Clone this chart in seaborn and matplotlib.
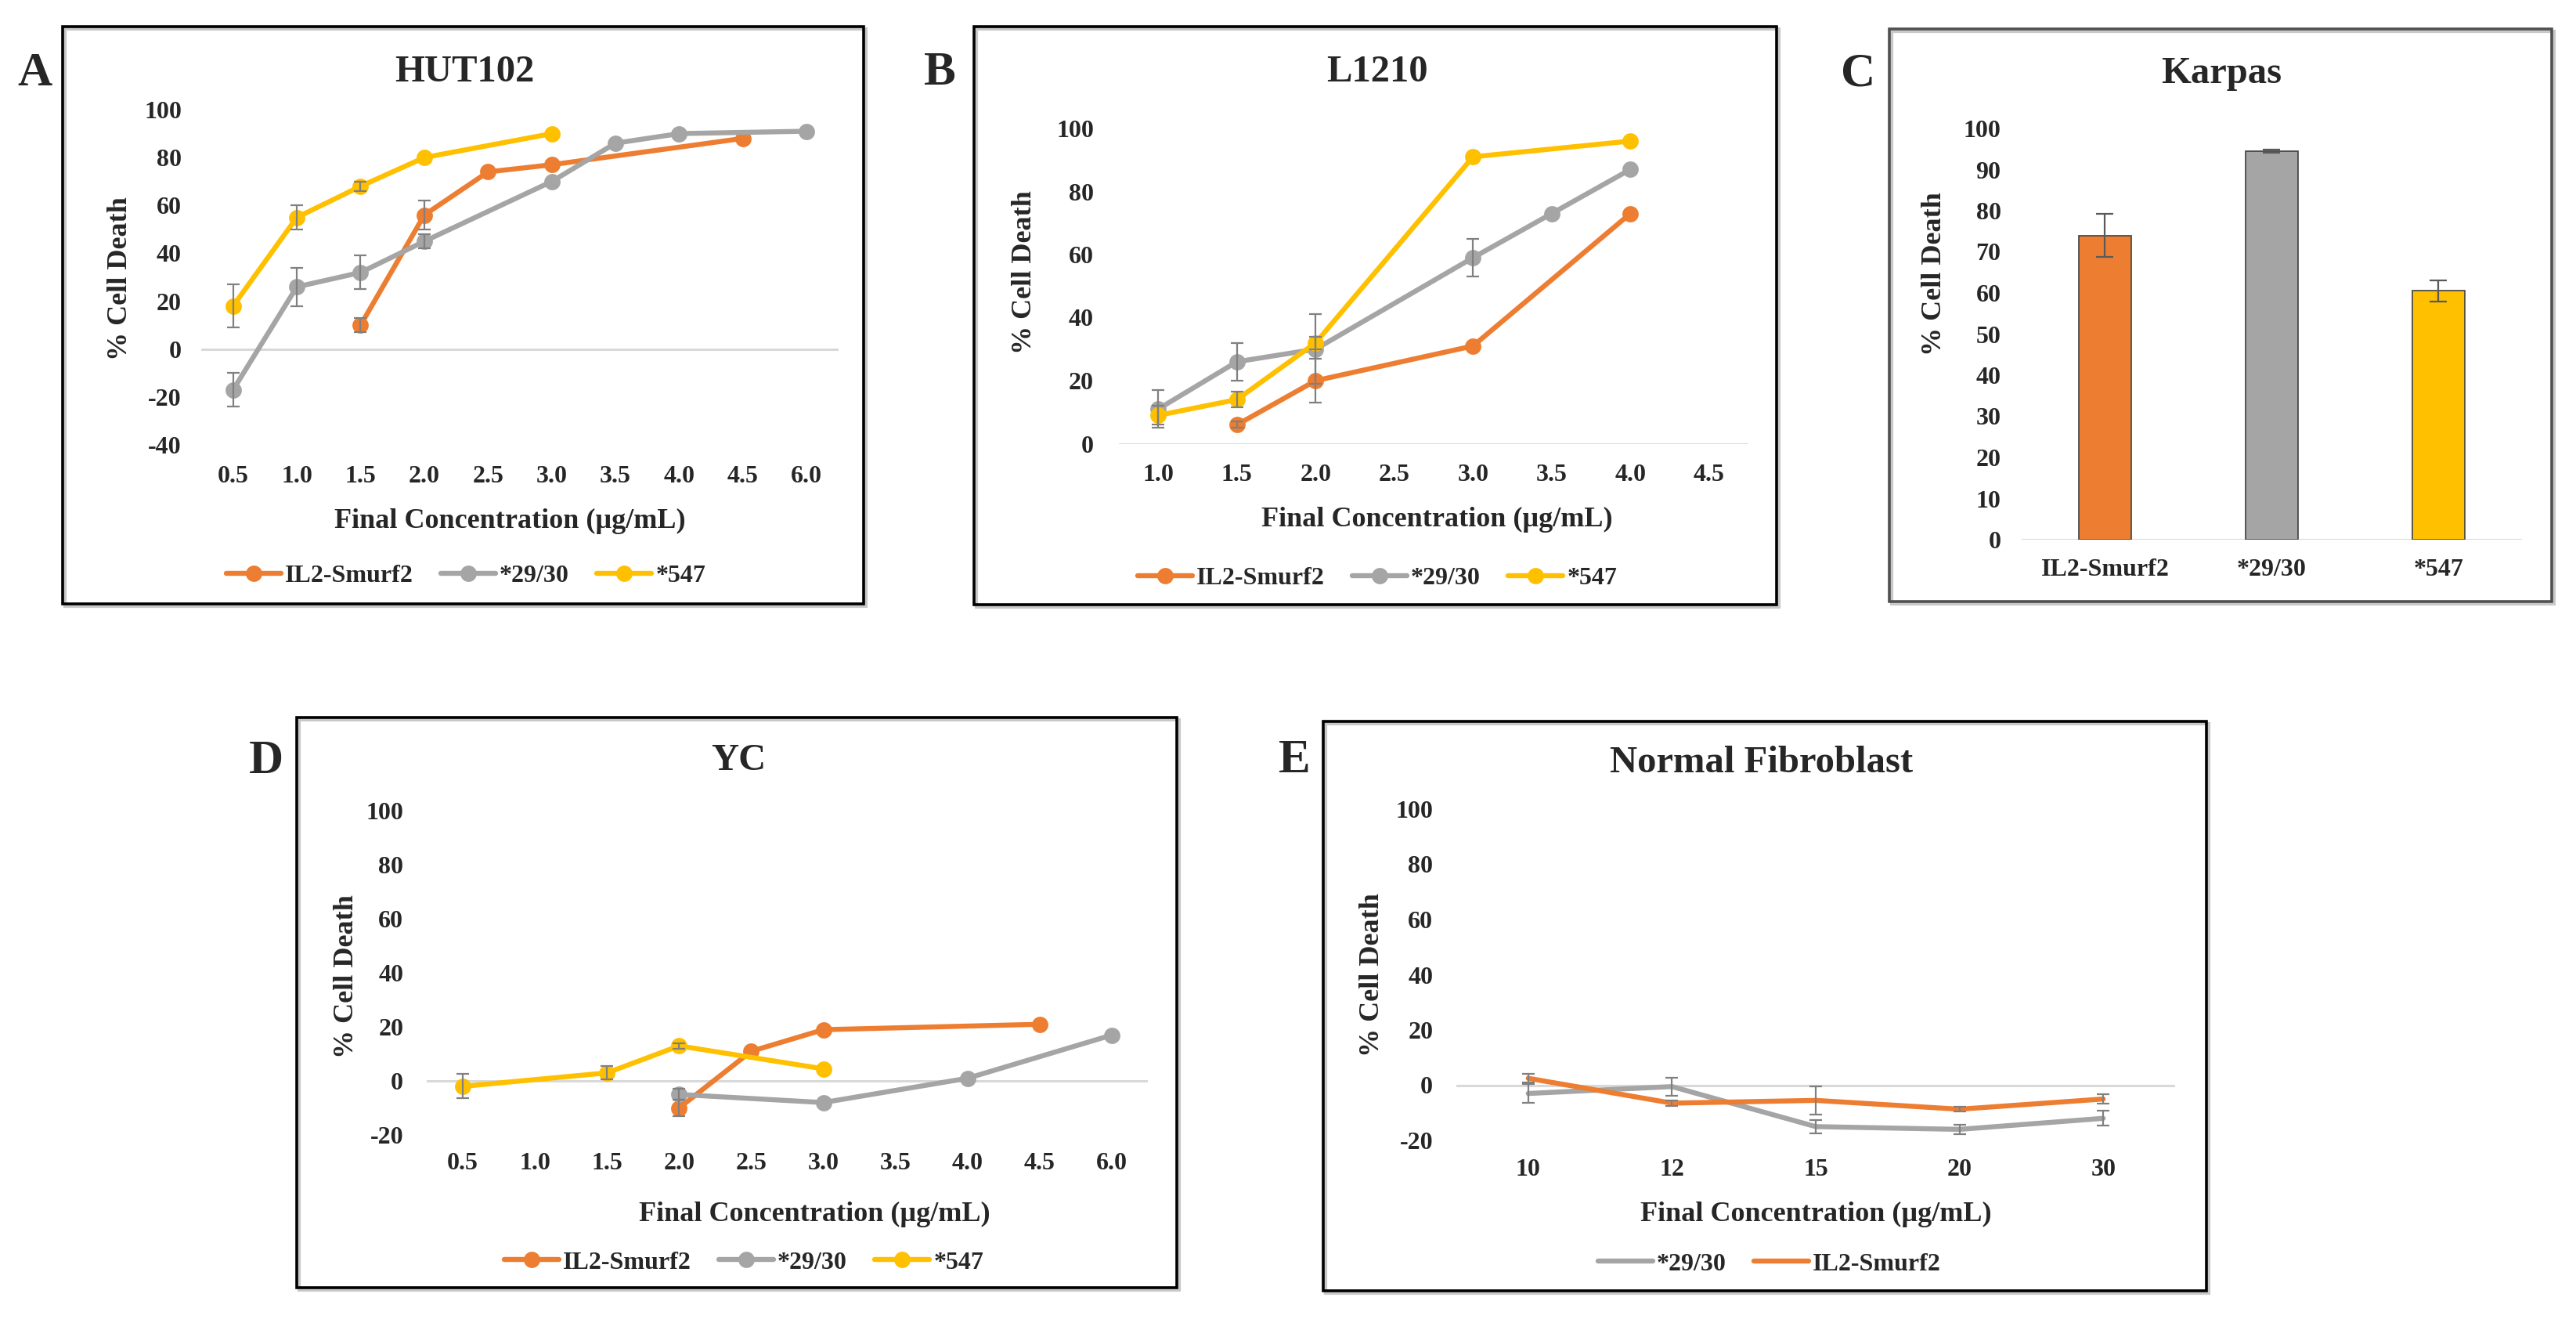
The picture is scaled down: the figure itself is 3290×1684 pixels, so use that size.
import numpy as np
import pandas as pd
import matplotlib
matplotlib.use("Agg")
import matplotlib.pyplot as plt
import seaborn as sns
from matplotlib.patches import Rectangle
from matplotlib.lines import Line2D

nan = np.nan

# ---------------- data ----------------
SERIES = ["IL2-Smurf2", "*29/30", "*547"]
COLORS = {"IL2-Smurf2": "#ED7D31", "*29/30": "#A5A5A5", "*547": "#FFC000"}

# A: HUT102
hut_conc = ["0.5", "1.0", "1.5", "2.0", "2.5", "3.0", "3.5", "4.0", "4.5", "6.0"]
hut_il2 = [nan, nan, 10, 56, 74, 77, nan, nan, 88, nan]
hut_il2_err = [nan, nan, 3, 6, nan, nan, nan, nan, nan, nan]
hut_2930 = [-17, 26, 32, 45, nan, 70, 86, 90, nan, 91]
hut_2930_err = [7, 8, 7, 3, nan, nan, nan, nan, nan, nan]
hut_547 = [18, 55, 68, 80, nan, 90, nan, nan, nan, nan]
hut_547_err = [9, 5, 2, nan, nan, nan, nan, nan, nan, nan]

# B: L1210
l1210_conc = ["1.0", "1.5", "2.0", "2.5", "3.0", "3.5", "4.0", "4.5"]
l1210_il2 = [nan, 6, 20, nan, 31, nan, 73, nan]
l1210_il2_err = [nan, 1, 7, nan, nan, nan, nan, nan]
l1210_2930 = [11, 26, 30, nan, 59, 73, 87, nan]
l1210_2930_err = [6, 6, 11, nan, 6, nan, nan, nan]
l1210_547 = [9, 14, 32, nan, 91, nan, 96, nan]
l1210_547_err = [3, 2.5, 2, nan, nan, nan, nan, nan]

# C: Karpas
karpas_cats = ["IL2-Smurf2", "*29/30", "*547"]
karpas_vals = [74, 94.5, 60.5]
karpas_err = [5.3, 0.4, 2.5]

# D: YC
yc_conc = ["0.5", "1.0", "1.5", "2.0", "2.5", "3.0", "3.5", "4.0", "4.5", "6.0"]
yc_il2 = [nan, nan, nan, -10, 11, 19, nan, nan, 21, nan]
yc_il2_err = [nan, nan, nan, 3, nan, nan, nan, nan, nan, nan]
yc_2930 = [nan, nan, nan, -5, nan, -8, nan, 1, nan, 17]
yc_2930_err = [nan, nan, nan, 2, nan, nan, nan, nan, nan, nan]
yc_547 = [-2, nan, 3, 13, nan, 4.5, nan, nan, nan, nan]
yc_547_err = [4.5, nan, 2.5, 1, nan, nan, nan, nan, nan, nan]

# E: Normal Fibroblast
fib_conc = ["10", "12", "15", "20", "30"]
fib_2930 = [-3, -0.5, -15, -16, -12]
fib_2930_err = [3.5, 3.3, 2.5, 1.8, 2.7]
fib_il2 = [2.5, -6.5, -5.5, -8.7, -5]
fib_il2_err = [1.5, 1, 5, 0.8, 1.7]

# ---------------- style ----------------
sns.set_theme(style="white")
plt.rcParams["font.family"] = ["Liberation Serif", "DejaVu Serif"]
plt.rcParams["font.weight"] = "bold"

W, H = 3291, 1684
fig = plt.figure(figsize=(W / 100, H / 100), dpi=100)
fig.patch.set_facecolor("white")

TICK_FS = 23
LAB_FS = 26
TITLE_FS = 35
LEG_FS = 23
LETTER_FS = 44
ERR_C = "#808080"
LW = 4.6
MS = 15


def fx(x):
    return x / W


def fy(y):
    return 1 - y / H


def px_axes(x0, x1, ytop, ybot):
    return fig.add_axes([fx(x0), fy(ybot), (x1 - x0) / W, (ybot - ytop) / H])


def box(x0, y0, x1, y1, color="black"):
    fig.patches.append(Rectangle((fx(x0) + 3 / W, fy(y1) - 3 / H), (x1 - x0) / W, (y1 - y0) / H,
                                 transform=fig.transFigure, fill=False, lw=3, ec="#c8c8c8", zorder=0))
    fig.patches.append(Rectangle((fx(x0), fy(y1)), (x1 - x0) / W, (y1 - y0) / H,
                                 transform=fig.transFigure, fill=False, lw=2.6, ec=color, zorder=1))


def decorate(ax, title, tpos, xlab, xlpos, ylpos, ylim, yticks, xpad, ypad):
    sns.despine(ax=ax, left=True, bottom=True, top=True, right=True)
    ax.set_facecolor("none")
    ax.set_ylim(*ylim)
    ax.set_yticks(yticks)
    ax.set_yticklabels([str(t) for t in yticks], fontsize=TICK_FS, fontweight="bold")
    ax.tick_params(axis="x", length=0, pad=xpad)
    ax.tick_params(axis="y", length=0, pad=ypad)
    ax.grid(False)
    ax.set_ylabel("% Cell Death", fontsize=LAB_FS, fontweight="bold")
    ax.yaxis.set_label_coords(fx(ylpos[0]), fy(ylpos[1]), transform=fig.transFigure)
    ax.yaxis.label.set_verticalalignment("center")
    if xlab:
        ax.set_xlabel(xlab, fontsize=LAB_FS, fontweight="bold")
        ax.xaxis.set_label_coords(fx(xlpos[0]), fy(xlpos[1]), transform=fig.transFigure)
        ax.xaxis.label.set_verticalalignment("center")
    else:
        ax.set_xlabel("")
    fig.text(fx(tpos[0]), fy(tpos[1]), title, ha="center", va="center",
             fontsize=TITLE_FS, fontweight="bold")


def line_panel(ax, conc, series, markers=True):
    rows = []
    for name, vals, errs in series:
        for i, (v, e) in enumerate(zip(vals, errs)):
            if not np.isnan(v):
                rows.append({"series": name, "pos": i, "value": v, "err": e})
    df = pd.DataFrame(rows)
    order = [s[0] for s in series]
    kw = dict(marker="o", markersize=MS, markeredgewidth=0) if markers else {}
    sns.lineplot(data=df, x="pos", y="value", hue="series", hue_order=order,
                 palette=COLORS, linewidth=LW, estimator=None, sort=True,
                 legend=False, ax=ax, **kw)
    for name in order:
        sub = df[(df.series == name) & df.err.notna()]
        if len(sub):
            ax.errorbar(sub.pos, sub.value, yerr=sub.err, fmt="none", ecolor=ERR_C,
                        elinewidth=1.6, capsize=6, capthick=1.6, zorder=5)
    ax.axhline(0, color="#D9D9D9", lw=2.2, zorder=0)
    ax.set_xlim(-0.5, len(conc) - 0.5)
    ax.set_xticks(range(len(conc)))
    ax.set_xticklabels(conc, fontsize=TICK_FS, fontweight="bold")


def legend(ax, order, center, markers=True):
    handles = [Line2D([0], [0], color=COLORS[n], lw=LW,
                      marker="o" if markers else None, markersize=MS, markeredgewidth=0)
               for n in order]
    ax.legend(handles, order, loc="center", bbox_to_anchor=(fx(center[0]), fy(center[1])),
              bbox_transform=fig.transFigure, ncol=len(order), frameon=False,
              handlelength=2.2, handletextpad=0.15, columnspacing=1.1, numpoints=1,
              prop={"size": LEG_FS, "weight": "bold"})


# ---------------- Panel A ----------------
box(80, 34, 1103, 771)
axA = px_axes(257, 1071, 140, 568)
line_panel(axA, hut_conc, [("IL2-Smurf2", hut_il2, hut_il2_err),
                           ("*29/30", hut_2930, hut_2930_err),
                           ("*547", hut_547, hut_547_err)])
decorate(axA, "HUT102", (593, 92), "Final Concentration (µg/mL)", (651, 665), (154, 356),
         (-40, 100), list(range(-40, 101, 20)), xpad=19, ypad=18)
legend(axA, SERIES, (595, 735))
fig.text(fx(45), fy(94), "A", ha="center", va="center", fontsize=LETTER_FS, fontweight="bold")

# ---------------- Panel B ----------------
box(1244, 34, 2269, 772)
axB = px_axes(1429, 2233, 164, 566.5)
line_panel(axB, l1210_conc, [("IL2-Smurf2", l1210_il2, l1210_il2_err),
                             ("*29/30", l1210_2930, l1210_2930_err),
                             ("*547", l1210_547, l1210_547_err)])
decorate(axB, "L1210", (1759, 92), "Final Concentration (µg/mL)", (1835, 663), (1309, 348),
         (0, 100), list(range(0, 101, 20)), xpad=18, ypad=23)
legend(axB, SERIES, (1759, 738))
fig.text(fx(1200), fy(93), "B", ha="center", va="center", fontsize=LETTER_FS, fontweight="bold")

# ---------------- Panel C ----------------
box(2413, 37, 3259, 768, color="#505050")
axC = px_axes(2582, 3221, 164, 689)
dfC = pd.DataFrame({"cat": karpas_cats, "value": karpas_vals, "err": karpas_err})
sns.barplot(data=dfC, x="cat", y="value", hue="cat", palette=COLORS, width=0.31,
            saturation=1, edgecolor="#404040", linewidth=1.2, legend=False, ax=axC,
            errorbar=None)
axC.errorbar(range(len(karpas_cats)), karpas_vals, yerr=karpas_err, fmt="none",
             ecolor="#595959", elinewidth=1.6, capsize=8, capthick=1.6, zorder=5)
axC.axhline(0, color="#D9D9D9", lw=2.2, zorder=0)
axC.set_xlim(-0.5, 2.5)
axC.set_xticks(range(len(karpas_cats)))
axC.set_xticklabels(karpas_cats, fontsize=LEG_FS, fontweight="bold")
decorate(axC, "Karpas", (2837, 94), None, None, (2471, 350),
         (0, 100), list(range(0, 101, 10)), xpad=17, ypad=19)
fig.text(fx(2373), fy(95), "C", ha="center", va="center", fontsize=LETTER_FS)

# ---------------- Panel D ----------------
box(379, 916, 1503, 1644)
axD = px_axes(545, 1466, 1035.5, 1449)
line_panel(axD, yc_conc, [("IL2-Smurf2", yc_il2, yc_il2_err),
                          ("*29/30", yc_2930, yc_2930_err),
                          ("*547", yc_547, yc_547_err)])
decorate(axD, "YC", (943, 971), "Final Concentration (µg/mL)", (1040, 1550), (443, 1247),
         (-20, 100), list(range(-20, 101, 20)), xpad=16, ypad=21.5)
legend(axD, SERIES, (950, 1612))
fig.text(fx(340), fy(972), "D", ha="center", va="center", fontsize=LETTER_FS)

# ---------------- Panel E ----------------
box(1690, 921, 2818, 1648)
axE = px_axes(1860, 2778, 1033, 1456)
line_panel(axE, fib_conc, [("*29/30", fib_2930, fib_2930_err),
                           ("IL2-Smurf2", fib_il2, fib_il2_err)], markers=False)
decorate(axE, "Normal Fibroblast", (2250, 974), "Final Concentration (µg/mL)", (2319, 1550),
         (1753, 1245), (-20, 100), list(range(-20, 101, 20)), xpad=16.5, ypad=21.5)
legend(axE, ["*29/30", "IL2-Smurf2"], (2260, 1614), markers=False)
fig.text(fx(1653), fy(971), "E", ha="center", va="center", fontsize=LETTER_FS, fontweight="bold")

fig.savefig("out.png", dpi=100, facecolor="white")
